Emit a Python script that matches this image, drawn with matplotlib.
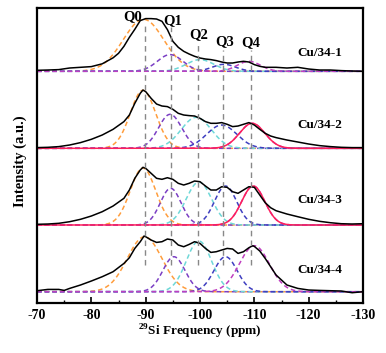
import numpy as np
import matplotlib
matplotlib.use("Agg")
import matplotlib.pyplot as plt

plt.rcParams['font.family'] = ['Liberation Serif', 'DejaVu Serif']
plt.rcParams['font.weight'] = 'bold'
plt.rcParams['mathtext.fontset'] = 'custom'
plt.rcParams['mathtext.rm'] = 'Liberation Serif:bold'
plt.rcParams['mathtext.bf'] = 'Liberation Serif:bold'
plt.rcParams['axes.unicode_minus'] = False

# ---- measured spectra (ppm, intensity above own baseline) ----
ppm1 = [-70, -72, -74, -76, -78, -80, -82, -84, -85, -86, -87, -88, -89, -90, -91, -92, -93, -94,
        -95, -96, -97, -98, -99, -100, -101, -102, -103, -104, -105, -106, -107, -108, -109, -110,
        -111, -112, -114, -116, -118, -120, -122, -124, -126, -128, -130]
int1 = [1, 1.3, 1.7, 3.3, 4, 4.7, 7.5, 13.5, 18, 25, 34, 42, 50.7, 52.7, 52.7, 52.3, 50, 41.7,
        30, 24, 20, 17.3, 15, 13.3, 12.3, 11.7, 10.7, 9.3, 8.3, 8.3, 9.3, 10, 9.3, 6.7,
        5, 4, 4, 3.3, 4, 2.3, 1.3, 1.3, 0.7, 0.3, 0]

ppm2 = [-70, -72, -74, -76, -78, -80, -82, -84, -86, -87, -88, -89, -89.5, -90, -91, -92, -93, -94,
        -95, -96, -97, -98, -99, -100, -101, -102, -103, -104, -105, -106, -107, -108, -109, -110,
        -111, -112, -113, -114, -116, -118, -120, -122, -124, -126, -128, -130]
int2 = [0.7, 1, 1.7, 3.3, 5.7, 9, 13.3, 19, 26.7, 33.3, 45, 55, 58.3, 56.7, 50, 44.3, 42.3, 41.7,
        39, 35, 33.3, 32.7, 32.3, 30, 26.7, 25, 25, 25.7, 24, 21.7, 22.3, 24, 25.7, 23.3,
        19, 15, 12.3, 10.7, 8.3, 6.3, 4.3, 2.7, 1.7, 1, 0.7, 0.7]

ppm3 = [-70, -72, -74, -76, -78, -80, -82, -84, -86, -87, -88, -89, -89.5, -90, -91, -92, -93, -94,
        -95, -96, -97, -98, -99, -100, -101, -102, -103, -104, -105, -106, -107, -108, -109, -110,
        -111, -112, -113, -114, -116, -118, -120, -122, -124, -126, -128, -130]
int3 = [0.7, 1, 1.7, 3.3, 5.7, 9, 13.3, 19, 26.7, 35, 46.7, 55, 57.7, 56.7, 51.7, 46.7, 45.7, 47.3,
        45.7, 41.7, 40, 41.7, 44, 43.3, 39, 35, 35, 38.3, 37.7, 33.3, 31.7, 35, 38.3, 37.7,
        30, 22.3, 17.3, 14.3, 11, 8.3, 5.7, 3.7, 2.3, 1.3, 1, 1.3]

ppm4 = [-70, -72, -74, -75, -76, -78, -80, -82, -84, -86, -87, -88, -89, -89.7, -90, -91, -92, -93,
        -94, -95, -96, -97, -98, -99, -100, -101, -102, -103, -104, -105, -106, -107, -108, -109,
        -109.7, -110, -111, -112, -113, -114, -115, -116, -117, -118, -120, -122, -124, -126, -128, -130]
int4 = [1, 2.3, 2.3, 1.3, 3.3, 6.7, 10.7, 15, 20, 28.3, 34, 43.3, 50, 55.7, 55, 51.7, 49.3, 50,
        52.7, 51.7, 46.7, 45, 47.3, 50, 48.3, 43.3, 39.3, 40, 41.7, 43.3, 42.7, 38.3, 40, 44,
        46, 45.3, 40.7, 33.3, 25, 16.7, 11.7, 6.7, 5, 3.3, 1.7, 1.3, 1, 0.7, -1, 0]

# ---- fitted components Q0..Q4: centre (ppm), height, fwhm (ppm) ----
cen1 = [-89.6, -94.5, -100.0, -104.4, -109.0]
hgt1 = [52, 16.7, 11.7, 7, 10]
fw1 = [8.8, 5.5, 6, 5, 5]

cen2 = [-89.5, -94.5, -99.3, -104.0, -109.6]
hgt2 = [58, 34, 31, 23.3, 25]
fw2 = [5.5, 5, 6.5, 6.5, 5.5]

cen3 = [-89.5, -94.6, -99.8, -104.7, -109.8]
hgt3 = [57, 36.7, 43, 39, 39]
fw3 = [5.5, 4.5, 5.5, 4.8, 5]

cen4 = [-89.8, -95.2, -99.8, -104.7, -110.0]
hgt4 = [55, 35, 50.7, 35, 46]
fw4 = [7.5, 4.8, 5.5, 5, 6.5]

names = ['Cu/34-1', 'Cu/34-2', 'Cu/34-3', 'Cu/34-4']
offsets = [231.7, 154.7, 78, 11.3]
q_labels = ['Q0', 'Q1', 'Q2', 'Q3', 'Q4']
q_pos = [-89.9, -94.7, -99.6, -104.3, -109.3]

comp_colors = ['#FF9D3C', '#7B3FC4', '#6ED8D8', '#3F3FC0', '#C03FC0']
red = '#FF1F5A'

spectra = [(ppm1, int1, cen1, hgt1, fw1),
           (ppm2, int2, cen2, hgt2, fw2),
           (ppm3, int3, cen3, hgt3, fw3),
           (ppm4, int4, cen4, hgt4, fw4)]

fig = plt.figure(figsize=(3.86, 3.53), dpi=100)
ax = fig.add_axes([0.0959, 0.1416, 0.8445, 0.8357])

x = np.linspace(-70, -130, 601)
for i, (p, s, cen, hgt, fw) in enumerate(spectra):
    off = offsets[i]
    for j in range(5):
        g = hgt[j] * np.exp(-4 * np.log(2) * (x - cen[j]) ** 2 / fw[j] ** 2)
        ax.plot(x, g + off, color=comp_colors[j], lw=1.1, ls=(0, (3, 2)))
        if j == 4 and i in (1, 2):
            ax.plot(x, g + off, color=red, lw=1.1)
    ax.plot(p, np.array(s) + off, color='black', lw=1.1)
    ax.text(-122.1, off + [18.5, 23.5, 25, 21.5][i], names[i], ha='center', va='center',
            fontsize=9.5, fontweight='bold')

# guide lines at Q positions
line_top = [280, 276, 258, 253, 253]
lab_y = [286, 282, 268, 261, 260]
lab_x = [-87.6, -94.9, -99.8, -104.6, -109.4]
for k in range(5):
    ax.plot([q_pos[k], q_pos[k]], [38, line_top[k]], color='#888888', lw=1.0, ls=(0, (4, 3)))
    ax.text(lab_x[k], lab_y[k], q_labels[k], ha='center', va='center', fontsize=10.5,
            fontweight='bold')

ax.set_xlim(-70, -130)
ax.set_ylim(0, 295)
ax.set_xticks(np.arange(-70, -131, -10))
ax.set_xticks(np.arange(-75, -130, -10), minor=True)
ax.set_yticks([])
ax.tick_params(axis='x', which='major', direction='in', length=4, width=1.2, labelsize=10, pad=4)
ax.tick_params(axis='x', which='minor', direction='in', length=2.5, width=1.0)
for lab in ax.get_xticklabels():
    lab.set_fontweight('bold')
for sp in ax.spines.values():
    sp.set_linewidth(1.6)

ax.set_xlabel('$^{29}$Si Frequency (ppm)', fontsize=9.5, fontweight='bold', labelpad=1)
ax.set_ylabel('Intensity (a.u.)', fontsize=10.5, fontweight='bold')
ax.yaxis.set_label_coords(-0.03, 0.48)

fig.savefig('out.png', dpi=100)
